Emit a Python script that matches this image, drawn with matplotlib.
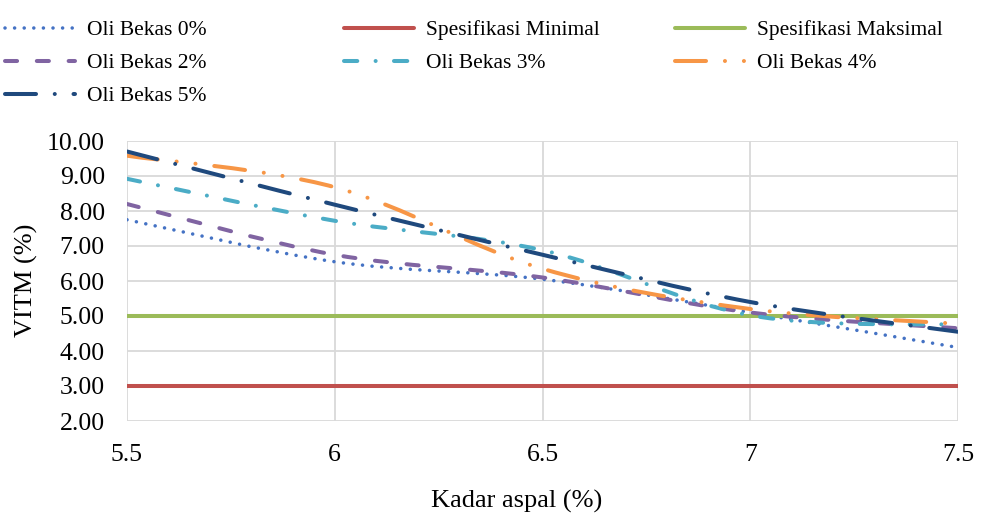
import numpy as np
import matplotlib
matplotlib.use("Agg")
import matplotlib.pyplot as plt
from matplotlib.path import Path
from matplotlib.patches import PathPatch
from matplotlib.lines import Line2D

plt.rcParams['font.family'] = ['Liberation Serif', 'DejaVu Serif']

# data
kadar_aspal = [5.5, 6.0, 6.5, 7.0, 7.5]
oli_0 = [7.75, 6.55, 6.05, 5.10, 4.10]
oli_2 = [8.20, 6.75, 6.10, 5.10, 4.65]
oli_3 = [8.92, 7.72, 6.88, 5.02, 4.75]
oli_4 = [9.58, 8.68, 6.35, 5.20, 4.78]
oli_5 = [9.70, 8.18, 6.75, 5.40, 4.55]
spek_min = [3.0, 3.0, 3.0, 3.0, 3.0]
spek_maks = [5.0, 5.0, 5.0, 5.0, 5.0]

x_ticks = [5.5, 6, 6.5, 7, 7.5]
x_ticklabels = ['5.5', '6', '6.5', '7', '7.5']


def smooth_path(xs, ys):
    """Bezier path seperti garis smooth Excel"""
    p = np.column_stack([xs, ys]).astype(float)
    n = len(p)
    verts = [p[0]]
    codes = [Path.MOVETO]
    for i in range(n - 1):
        p0 = p[i - 1] if i > 0 else p[i]
        p3 = p[i + 2] if i + 2 < n else p[i + 1]
        c1 = p[i] + (p[i + 1] - p0) / 6.0
        c2 = p[i + 1] - (p3 - p[i]) / 6.0
        verts += [c1, c2, p[i + 1]]
        codes += [Path.CURVE4] * 3
    return Path(verts, codes)


fig = plt.figure(figsize=(9.87, 5.18), dpi=100)
ax = fig.add_axes([127 / 987, 1 - 421 / 518, (958 - 127) / 987, (421 - 141) / 518])

lw = 2.9
series = [
    ('Oli Bekas 0%', oli_0, '#4472C4', (0, (0.01, 2.7)), True, 2.55),
    ('Spesifikasi Minimal', spek_min, '#C0504D', '-', False, 2.9),
    ('Spesifikasi Maksimal', spek_maks, '#9BBB59', '-', False, 2.9),
    ('Oli Bekas 2%', oli_2, '#8064A2', (0, (3.0, 4.9)), True, lw),
    ('Oli Bekas 3%', oli_3, '#4BACC6', (0, (3.3, 4.55, 0.01, 4.55)), True, lw),
    ('Oli Bekas 4%', oli_4, '#F79646', (0, (7.7, 4.7, 0.01, 4.7, 0.01, 4.7)), True, lw),
    ('Oli Bekas 5%', oli_5, '#1F497D', (0, (7.7, 4.65, 0.01, 4.65)), True, lw),
]

handles = {}
for name, ys, color, ls, smooth, w in series:
    if smooth:
        patch = PathPatch(smooth_path(kadar_aspal, ys), facecolor='none', edgecolor=color,
                          linewidth=w, linestyle=ls, capstyle='round', joinstyle='round',
                          transform=ax.transData, zorder=3)
        ax.add_patch(patch)
    else:
        ax.plot(kadar_aspal, ys, color=color, linewidth=w, zorder=3)
    handles[name] = Line2D([], [], color=color, linewidth=w, linestyle=ls,
                           dash_capstyle='round', solid_capstyle='round')

ax.set_xlim(5.5, 7.5)
ax.set_ylim(2, 10)
ax.set_xticks(x_ticks)
ax.set_xticklabels(x_ticklabels)
ax.set_yticks(np.arange(2, 10.01, 1))
ax.yaxis.set_major_formatter(matplotlib.ticker.FormatStrFormatter('%.2f'))
ax.tick_params(length=0, labelsize=18.5, colors='black')
ax.tick_params(axis='x', pad=16.5)
ax.tick_params(axis='y', pad=16)
ax.grid(True, color='#D9D9D9', linewidth=1.3, zorder=0)
ax.set_axisbelow(True)
for s in ax.spines.values():
    s.set_visible(False)

fig.text(26 / 987, 1 - 280 / 518, 'VITM (%)', fontsize=19, rotation=90, ha='center', va='center')
fig.text(517 / 987, 1 - 501 / 518, 'Kadar aspal (%)', fontsize=19, ha='center', va='center')

# legenda 3 kolom dengan lebar tetap
columns = [
    (['Oli Bekas 0%', 'Oli Bekas 2%', 'Oli Bekas 5%'], 5),
    (['Spesifikasi Minimal', 'Oli Bekas 3%'], 344),
    (['Spesifikasi Maksimal', 'Oli Bekas 4%'], 675),
]
for names, x0 in columns:
    fig.legend([handles[n] for n in names], names, loc='upper left',
               bbox_to_anchor=(x0 / 987, 1 - 20 / 518), frameon=False, fontsize=15.5,
               handlelength=3.25, handletextpad=0.55, labelspacing=0.6,
               borderpad=0, borderaxespad=0)

fig.savefig('out.png', dpi=100)
